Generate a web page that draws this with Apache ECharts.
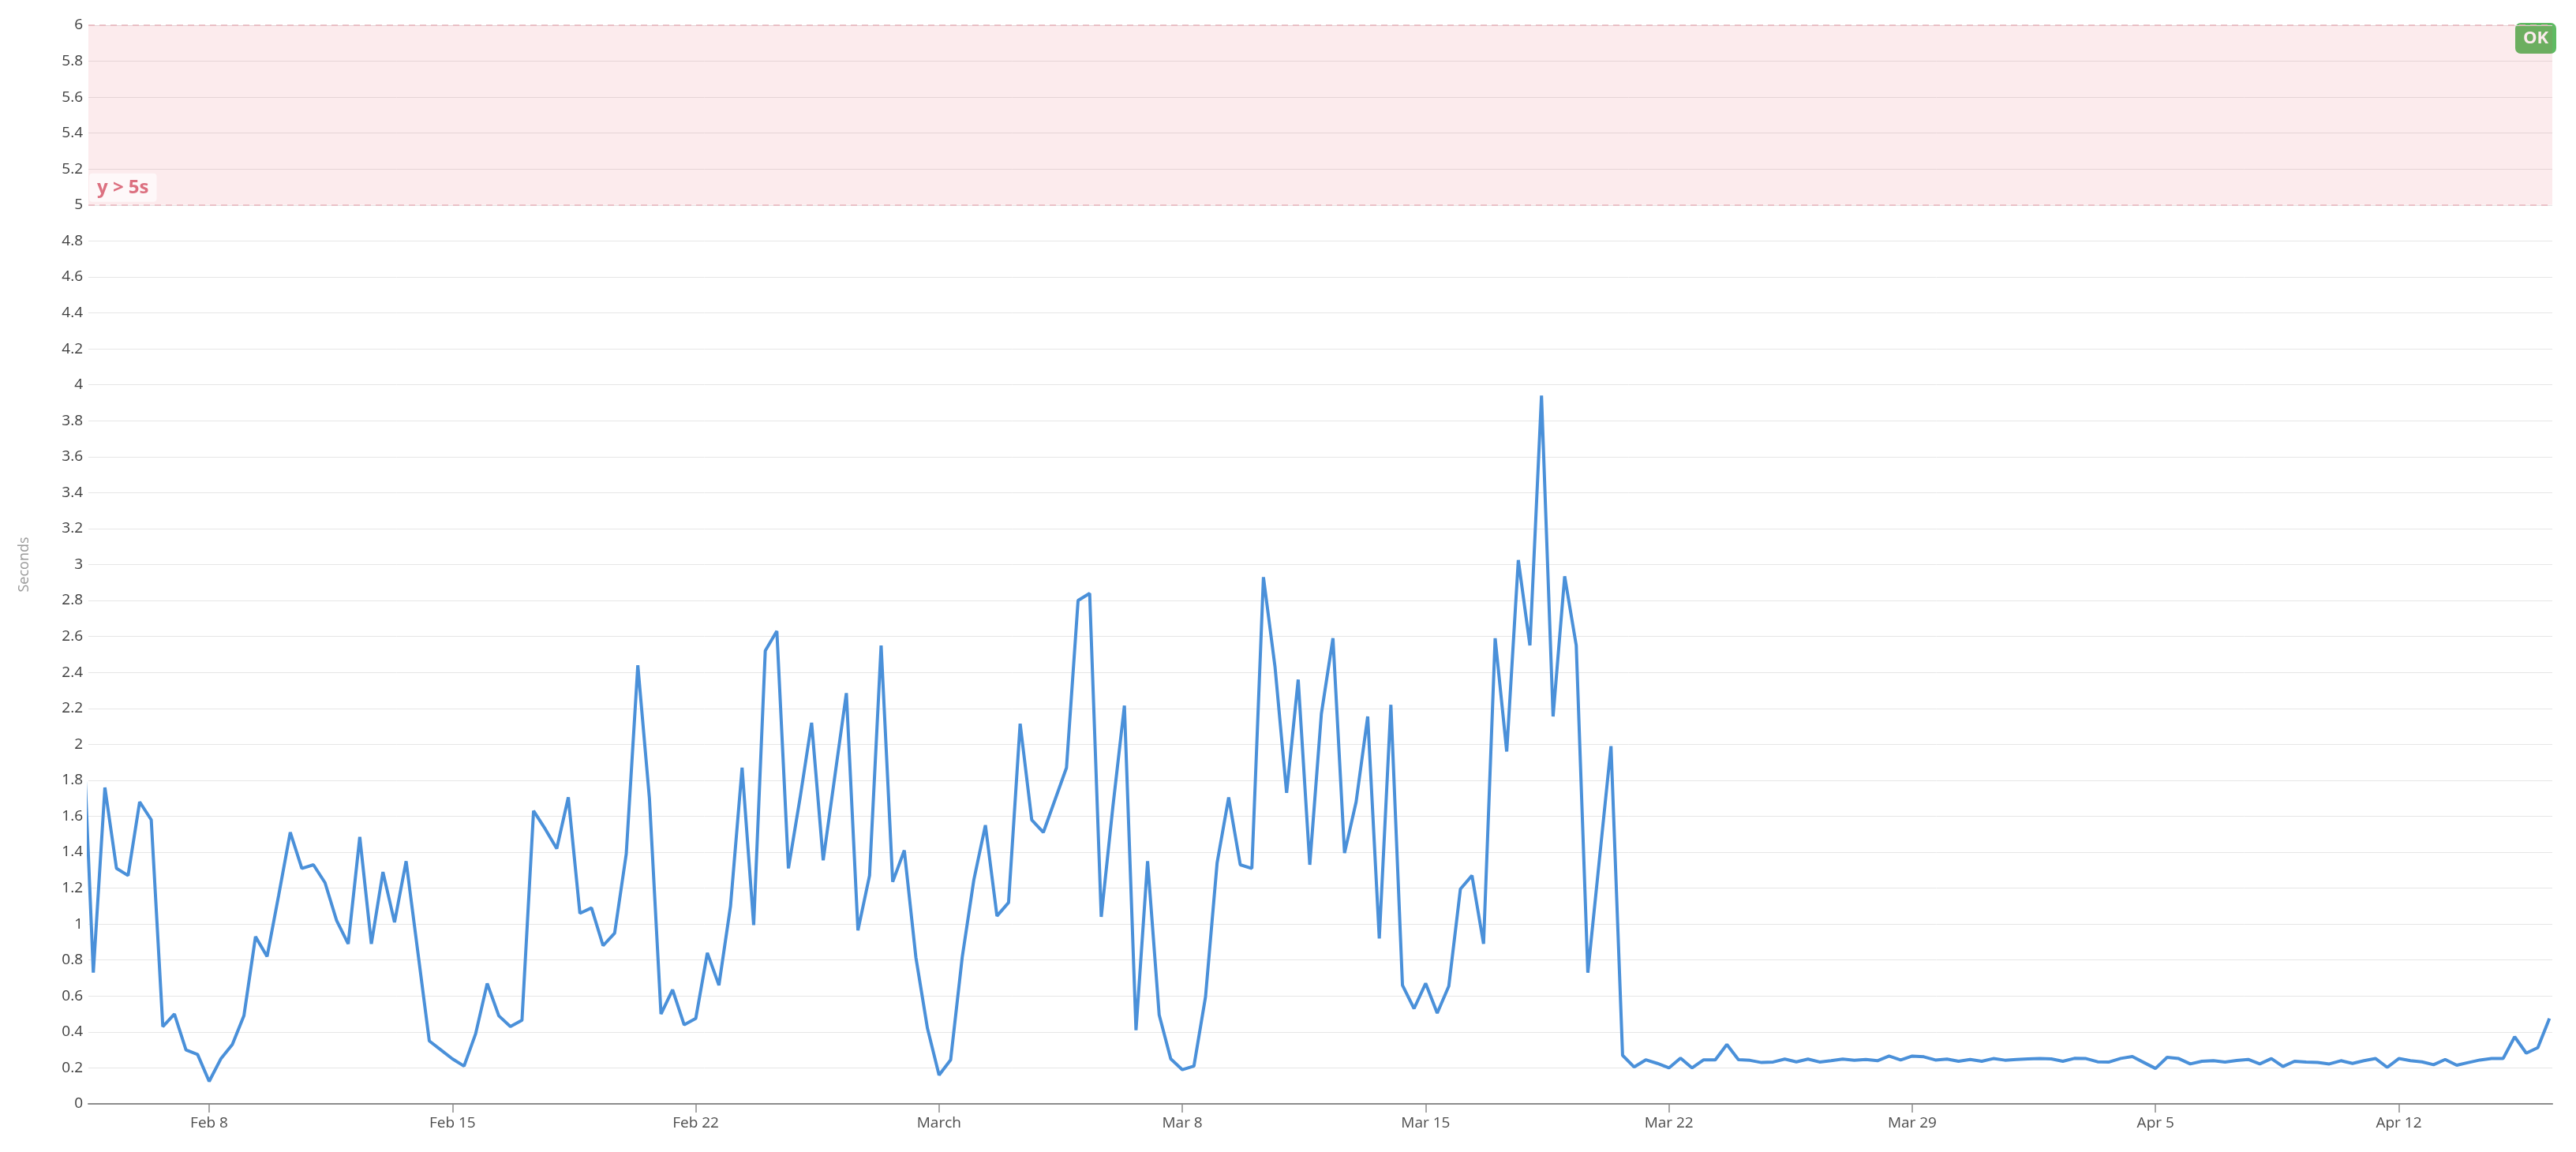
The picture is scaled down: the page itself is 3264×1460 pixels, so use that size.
<!DOCTYPE html>
<html><head><meta charset="utf-8">
<script src="https://cdn.jsdelivr.net/npm/echarts@6/dist/echarts.min.js"></script>
<style>html,body{margin:0;padding:0;background:#fff}#c{width:3264px;height:1460px}</style>
</head><body><div id="c"></div>
<script>
// time in hours relative to Feb 8 00:00; samples every 8 hours, first sample Feb 4 08:00
const startHour = -88;
const stepHours = 8;
const values = [
  2.26,
  0.73,1.76,1.31,1.27,1.68,1.58,0.43,0.50,0.30,0.275,
  0.125,0.25,0.33,0.49,0.93,0.82,1.16,1.51,1.31,1.33,
  1.23,1.02,0.89,1.485,0.89,1.29,1.01,1.35,0.85,0.35,
  0.30,0.25,0.21,0.39,0.67,0.49,0.43,0.465,1.63,1.53,
  1.42,1.705,1.06,1.09,0.88,0.95,1.39,2.44,1.70,0.50,
  0.635,0.44,0.475,0.84,0.66,1.10,1.87,0.995,2.52,2.63,
  1.31,1.70,2.12,1.355,1.82,2.285,0.965,1.27,2.55,1.235,
  1.41,0.815,0.42,0.16,0.245,0.815,1.245,1.55,1.045,1.12,
  2.115,1.58,1.51,1.69,1.87,2.80,2.84,1.04,1.65,2.215,
  0.41,1.35,0.495,0.25,0.19,0.21,0.595,1.34,1.705,1.33,
  1.31,2.93,2.43,1.73,2.36,1.33,2.17,2.59,1.395,1.68,
  2.155,0.92,2.22,0.66,0.53,0.67,0.505,0.655,1.195,1.27,
  0.89,2.59,1.96,3.025,2.55,3.94,2.155,2.935,2.55,0.73,
  1.36,1.99,0.27,0.205,0.245,0.225,0.20,0.255,0.20,0.245,
  0.245,0.33,0.246,0.242,0.23,0.233,0.249,0.234,0.249,0.233,
  0.24,0.249,0.243,0.247,0.24,0.266,0.244,0.266,0.262,0.244,
  0.249,0.237,0.247,0.237,0.252,0.243,0.247,0.25,0.252,0.25,
  0.237,0.253,0.252,0.234,0.233,0.253,0.263,0.23,0.197,0.259,
  0.252,0.222,0.237,0.24,0.233,0.241,0.247,0.222,0.252,0.208,
  0.237,0.233,0.23,0.222,0.24,0.225,0.24,0.252,0.203,0.252,
  0.24,0.234,0.218,0.247,0.215,0.23,0.244,0.252,0.252,0.373,
  0.282,0.313,0.475
];
const tickLabels = ['Feb 8','Feb 15','Feb 22','March','Mar 8','Mar 15','Mar 22','Mar 29','Apr 5','Apr 12'];
const tickDays = [0,7,14,21,28,35,42,49,56,63];
const axisMinHour = -83.4;
const axisMaxHour = 1618;
const thresholdLow = 5, thresholdHigh = 6;
const thresholdText = 'y > 5s';

const seriesData = values.map((v, i) => [startHour + i * stepHours, v]);
const tickHours = tickDays.map(d => d * 24);
const labelMap = {};
tickHours.forEach((h, i) => { labelMap[h] = tickLabels[i]; });

const chart = echarts.init(document.getElementById('c'), null, {renderer: 'canvas'});
const FONT = '"Open Sans", sans-serif';
chart.setOption({
  animation: false,
  backgroundColor: '#ffffff',
  grid: {left: 112, right: 30, top: 32, bottom: 61},
  xAxis: {
    type: 'value',
    min: axisMinHour,
    max: axisMaxHour,
    splitLine: {show: false},
    axisLine: {show: true, lineStyle: {color: '#8c8c8c', width: 2}},
    axisTick: {show: true, customValues: tickHours, length: 11, lineStyle: {color: '#8c8c8c', width: 1.5}},
    axisLabel: {
      customValues: tickHours,
      formatter: v => labelMap[v] || '',
      fontSize: 19, color: '#4d4d4d', margin: 15, fontFamily: FONT
    }
  },
  yAxis: {
    type: 'value',
    min: 0, max: 6, interval: 0.2,
    name: 'Seconds',
    nameLocation: 'middle',
    nameGap: 72,
    nameTextStyle: {color: '#9a9a9a', fontSize: 18, fontFamily: FONT},
    axisLine: {show: false},
    axisTick: {show: false},
    axisLabel: {fontSize: 19, color: '#3d3d3d', margin: 7, fontFamily: FONT},
    splitLine: {lineStyle: {color: '#e6e6e6', width: 1}}
  },
  series: [{
    type: 'line',
    data: seriesData,
    showSymbol: false,
    clip: true,
    lineStyle: {color: '#4a90d9', width: 4},
    itemStyle: {color: '#4a90d9'},
    markArea: {
      silent: true,
      itemStyle: {color: 'rgba(230,60,80,0.10)'},
      label: {
        show: true,
        position: 'insideBottomLeft',
        distance: 4,
        offset: [-3, 0],
        color: '#dc7080',
        fontWeight: 'bold',
        fontSize: 24,
        fontFamily: FONT,
        backgroundColor: 'rgba(255,255,255,0.65)',
        borderRadius: 4,
        padding: [6, 10]
      },
      data: [[{yAxis: thresholdLow, name: thresholdText}, {yAxis: thresholdHigh}]]
    },
    markLine: {
      silent: true,
      symbol: 'none',
      label: {show: false},
      lineStyle: {color: '#e8b3bb', type: [8, 6], width: 1.5},
      data: [{yAxis: thresholdLow}, {yAxis: thresholdHigh}]
    }
  }],
  graphic: [{
    type: 'group',
    right: 25,
    top: 29,
    children: [
      {type: 'rect', shape: {x: 0, y: 0, width: 52, height: 39, r: 7}, style: {fill: '#5fbb63'}},
      {type: 'text', x: 26, y: 20, style: {text: 'OK', fill: '#ffffff', font: 'bold 22px "Open Sans", sans-serif', align: 'center', verticalAlign: 'middle'}}
    ]
  }]
});
</script>
</body></html>
